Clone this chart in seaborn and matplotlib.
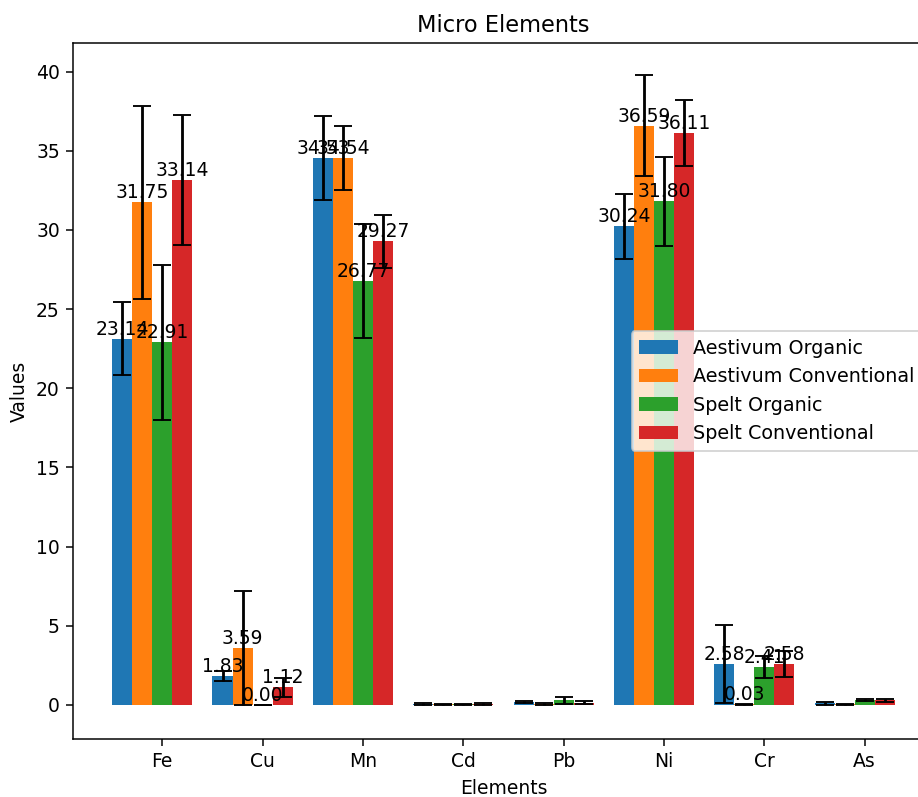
import numpy as np
import pandas as pd
import matplotlib
matplotlib.use('Agg')
import matplotlib.pyplot as plt
import seaborn as sns

elements = ['Fe', 'Cu', 'Mn', 'Cd', 'Pb', 'Ni', 'Cr', 'As']
groups = ['Aestivum Organic', 'Aestivum Conventional', 'Spelt Organic', 'Spelt Conventional']

aest_org = [23.14, 1.83, 34.53, 0.06, 0.20, 30.24, 2.58, 0.10]
aest_org_err = [2.30, 0.32, 2.65, 0.04, 0.05, 2.05, 2.47, 0.08]
aest_conv = [31.75, 3.59, 34.54, 0.04, 0.05, 36.59, 0.03, 0.05]
aest_conv_err = [6.10, 3.60, 2.05, 0.05, 0.08, 3.20, 0.02, 0.04]
spelt_org = [22.91, 0.00, 26.77, 0.05, 0.28, 31.80, 2.41, 0.30]
spelt_org_err = [4.90, 0.00, 3.60, 0.04, 0.25, 2.80, 0.70, 0.08]
spelt_conv = [33.14, 1.12, 29.27, 0.05, 0.15, 36.11, 2.58, 0.28]
spelt_conv_err = [4.10, 0.60, 1.67, 0.08, 0.10, 2.10, 0.80, 0.10]

# value labels only show up for these in the original
labelled = ['Fe', 'Cu', 'Mn', 'Ni', 'Cr']

values = [aest_org, aest_conv, spelt_org, spelt_conv]
errors = [aest_org_err, aest_conv_err, spelt_org_err, spelt_conv_err]

rows = []
for g, vals in zip(groups, values):
    for el, v in zip(elements, vals):
        rows.append({'Element': el, 'Value': v, 'Group': g})
df = pd.DataFrame(rows)

colors = ['#1f77b4', '#ff7f0e', '#2ca02c', '#d62728']

fig, ax = plt.subplots(figsize=(918 / 135, 797 / 135), dpi=135)
# axes runs past the right edge, like the cropped original
ax.set_position([0.0795, 0.0728, 0.9379, 0.8732])

sns.barplot(data=df, x='Element', y='Value', hue='Group', order=elements,
            hue_order=groups, palette=colors, errorbar=None, saturation=1,
            width=0.8, ax=ax)

for cont, errs in zip(ax.containers, errors):
    xs = [p.get_x() + p.get_width() / 2 for p in cont.patches]
    hs = [p.get_height() for p in cont.patches]
    ax.errorbar(xs, hs, yerr=errs, fmt='none', ecolor='black', capsize=5)
    for x, h, el in zip(xs, hs, elements):
        if el in labelled:
            ax.text(x, h, f'{h:.2f}', ha='center', va='bottom', fontsize=10)

ax.set_xticks(np.arange(len(elements)) + 0.1)
ax.set_xticklabels(elements)
ax.set_xlim(-0.79, 7.79)
ax.set_ylim(-2.15, 41.8)

ax.set_title('Micro Elements')
ax.set_xlabel('Elements')
ax.set_ylabel('Values')

h, l = ax.get_legend_handles_labels()
ax.legend(h, l, loc='center right', bbox_to_anchor=(0.997, 0.5), fontsize=10.2)

fig.savefig('out.png', dpi=135)
